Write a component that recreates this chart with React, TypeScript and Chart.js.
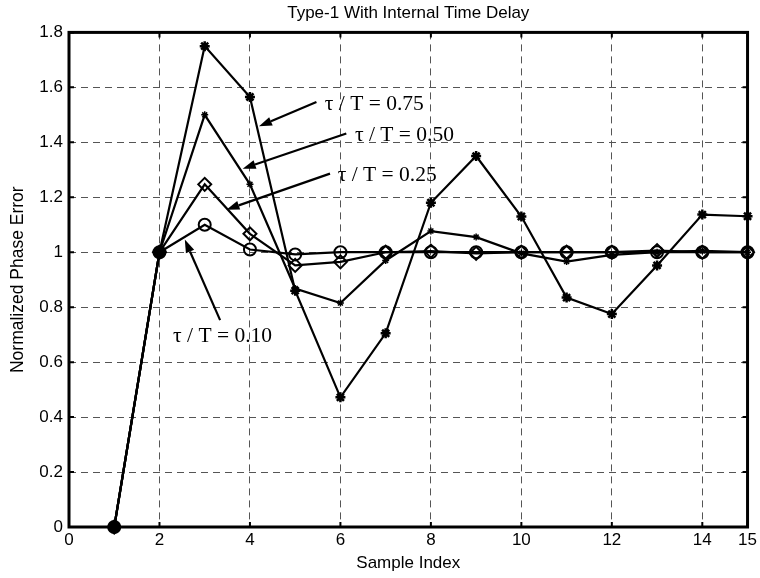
import React, { useEffect, useRef } from 'react';
import { Chart, registerables } from 'chart.js';

Chart.register(...registerables);

const sampleIndex = [1, 2, 3, 4, 5, 6, 7, 8, 9, 10, 11, 12, 13, 14, 15];
const series075 = [0, 1, 1.75, 1.565, 0.86, 0.472, 0.705, 1.18, 1.35, 1.13, 0.835, 0.775, 0.952, 1.137, 1.131];
const series050 = [0, 1, 1.5, 1.247, 0.868, 0.815, 0.97, 1.077, 1.055, 0.996, 0.966, 0.99, 1.0, 1.005, 1.0];
const series025 = [0, 1, 1.247, 1.067, 0.952, 0.965, 1.0, 1.004, 0.996, 1.0, 1.0, 1.0, 1.006, 1.0, 1.0];
const series010 = [0, 1, 1.1, 1.01, 0.992, 1.0, 1.0, 1.0, 1.0, 1.0, 1.0, 1.0, 1.0, 1.0, 1.0];

const xTicks = [0, 2, 4, 6, 8, 10, 12, 14, 15];
const yTicks = [0, 0.2, 0.4, 0.6, 0.8, 1, 1.2, 1.4, 1.6, 1.8];

const labelTexts = ['τ / T = 0.75', 'τ / T = 0.50', 'τ / T = 0.25', 'τ / T = 0.10'];
const labelX = [5.655, 6.32, 5.94, 2.3];
const labelY = [1.538, 1.425, 1.28, 0.695];
const arrowFromX = [5.47, 6.13, 5.77, 3.34];
const arrowFromY = [1.547, 1.432, 1.286, 0.753];
const arrowToX = [4.2, 3.84, 3.48, 2.56];
const arrowToY = [1.458, 1.304, 1.155, 1.046];

const SANS = "'Liberation Sans', Arial, sans-serif";
const SERIF = "'Liberation Serif', 'Times New Roman', serif";

const framePlugin = {
  id: 'frame',
  beforeDatasetsDraw(chart: any) {
    const { ctx, chartArea: a, scales } = chart;
    ctx.save();
    ctx.strokeStyle = '#000';
    ctx.lineWidth = 3;
    ctx.strokeRect(a.left, a.top, a.right - a.left, a.bottom - a.top);
    ctx.lineWidth = 2;
    const tl = 5;
    ctx.beginPath();
    for (const v of xTicks) {
      const px = scales.x.getPixelForValue(v);
      ctx.moveTo(px, a.bottom);
      ctx.lineTo(px, a.bottom - tl);
      ctx.moveTo(px, a.top);
      ctx.lineTo(px, a.top + tl);
    }
    for (const v of yTicks) {
      const py = scales.y.getPixelForValue(v);
      ctx.moveTo(a.left, py);
      ctx.lineTo(a.left + tl, py);
      ctx.moveTo(a.right, py);
      ctx.lineTo(a.right - tl, py);
    }
    ctx.stroke();
    ctx.restore();
  },
  afterDatasetsDraw(chart: any) {
    const { ctx, scales } = chart;
    const sx = scales.x;
    const sy = scales.y;
    ctx.save();
    ctx.fillStyle = '#000';
    ctx.strokeStyle = '#000';
    ctx.font = `21.5px ${SERIF}`;
    ctx.textAlign = 'left';
    ctx.textBaseline = 'middle';
    labelTexts.forEach((t, i) => {
      ctx.fillText(t, sx.getPixelForValue(labelX[i]), sy.getPixelForValue(labelY[i]));
    });
    ctx.lineWidth = 2.2;
    arrowFromX.forEach((_, i) => {
      const x1 = sx.getPixelForValue(arrowFromX[i]);
      const y1 = sy.getPixelForValue(arrowFromY[i]);
      const x2 = sx.getPixelForValue(arrowToX[i]);
      const y2 = sy.getPixelForValue(arrowToY[i]);
      const ang = Math.atan2(y2 - y1, x2 - x1);
      const hl = 13;
      const hw = 4.5;
      const bx = x2 - hl * Math.cos(ang);
      const by = y2 - hl * Math.sin(ang);
      ctx.beginPath();
      ctx.moveTo(x1, y1);
      ctx.lineTo(bx, by);
      ctx.stroke();
      ctx.beginPath();
      ctx.moveTo(x2, y2);
      ctx.lineTo(bx + hw * Math.sin(ang), by - hw * Math.cos(ang));
      ctx.lineTo(bx - hw * Math.sin(ang), by + hw * Math.cos(ang));
      ctx.closePath();
      ctx.fill();
    });
    ctx.restore();
  },
};

function pts(vals: number[]) {
  return sampleIndex.map((x, i) => ({ x, y: vals[i] }));
}

export default function App() {
  const ref = useRef<HTMLCanvasElement>(null);
  useEffect(() => {
    const canvas = ref.current;
    if (!canvas) return;
    const common = {
      borderColor: '#000',
      borderWidth: 2.2,
      pointBorderColor: '#000',
      tension: 0,
      clip: false as any,
    };
    const chart = new Chart(canvas, {
      type: 'line',
      data: {
        datasets: [
          {
            ...common,
            label: 'τ / T = 0.10',
            data: pts(series010),
            pointStyle: 'circle',
            pointRadius: 6,
            pointBorderWidth: 2,
            pointBackgroundColor: (c: any) => (c.dataIndex < 2 ? '#000' : 'rgba(0,0,0,0)'),
          },
          {
            ...common,
            label: 'τ / T = 0.25',
            data: pts(series025),
            pointStyle: 'rectRot',
            pointRadius: 6.5,
            pointBorderWidth: 2,
            pointBackgroundColor: 'rgba(0,0,0,0)',
          },
          {
            ...common,
            label: 'τ / T = 0.50',
            data: pts(series050),
            pointStyle: 'star',
            pointRadius: 3.5,
            pointBorderWidth: 1.5,
            pointBackgroundColor: 'rgba(0,0,0,0)',
          },
          {
            ...common,
            label: 'τ / T = 0.75',
            data: pts(series075),
            pointStyle: 'star',
            pointRadius: 5,
            pointBorderWidth: 2.5,
            pointBackgroundColor: 'rgba(0,0,0,0)',
          },
        ],
      },
      options: {
        responsive: false,
        animation: false,
        devicePixelRatio: 1,
        layout: { padding: { left: 0, right: 12, top: 0, bottom: 0 } },
        plugins: {
          legend: { display: false },
          tooltip: { enabled: false },
          title: {
            display: true,
            text: 'Type-1 With Internal Time Delay',
            color: '#000',
            fullSize: false,
            font: { family: SANS, size: 17, weight: 'normal' },
            padding: { top: 3, bottom: 9 },
          },
        },
        scales: {
          x: {
            type: 'linear',
            min: 0,
            max: 15,
            afterBuildTicks: (s: any) => {
              s.ticks = xTicks.map((v) => ({ value: v }));
            },
            afterFit: (s: any) => {
              s.height = 51;
            },
            grid: { color: '#555', lineWidth: 1, drawTicks: false },
            border: { display: false, dash: [7, 5] },
            ticks: {
              color: '#000',
              padding: 3,
              font: { family: SANS, size: 17 },
              autoSkip: false,
              maxRotation: 0,
              callback: (v: any) => String(v),
            },
            title: {
              display: true,
              text: 'Sample Index',
              color: '#000',
              font: { family: SANS, size: 17 },
              padding: { top: 0, bottom: 4 },
            },
          },
          y: {
            type: 'linear',
            min: 0,
            max: 1.8,
            afterBuildTicks: (s: any) => {
              s.ticks = yTicks.map((v) => ({ value: v }));
            },
            afterFit: (s: any) => {
              s.width = 69;
            },
            grid: { color: '#555', lineWidth: 1, drawTicks: false },
            border: { display: false, dash: [7, 5] },
            ticks: {
              color: '#000',
              padding: 6,
              font: { family: SANS, size: 17 },
              autoSkip: false,
              callback: (v: any) => String(Math.round(Number(v) * 10) / 10),
            },
            title: {
              display: true,
              text: 'Normalized Phase Error',
              color: '#000',
              font: { family: SANS, size: 17.5 },
              padding: { top: 8, bottom: 0 },
            },
          },
        },
      },
      plugins: [framePlugin],
    } as any);
    return () => chart.destroy();
  }, []);
  return (
    <div style={{ position: 'absolute', left: 0, top: 0, width: 760, height: 578, background: '#fff' }}>
      <canvas ref={ref} width={760} height={578} style={{ display: 'block', width: 760, height: 578 }} />
    </div>
  );
}
